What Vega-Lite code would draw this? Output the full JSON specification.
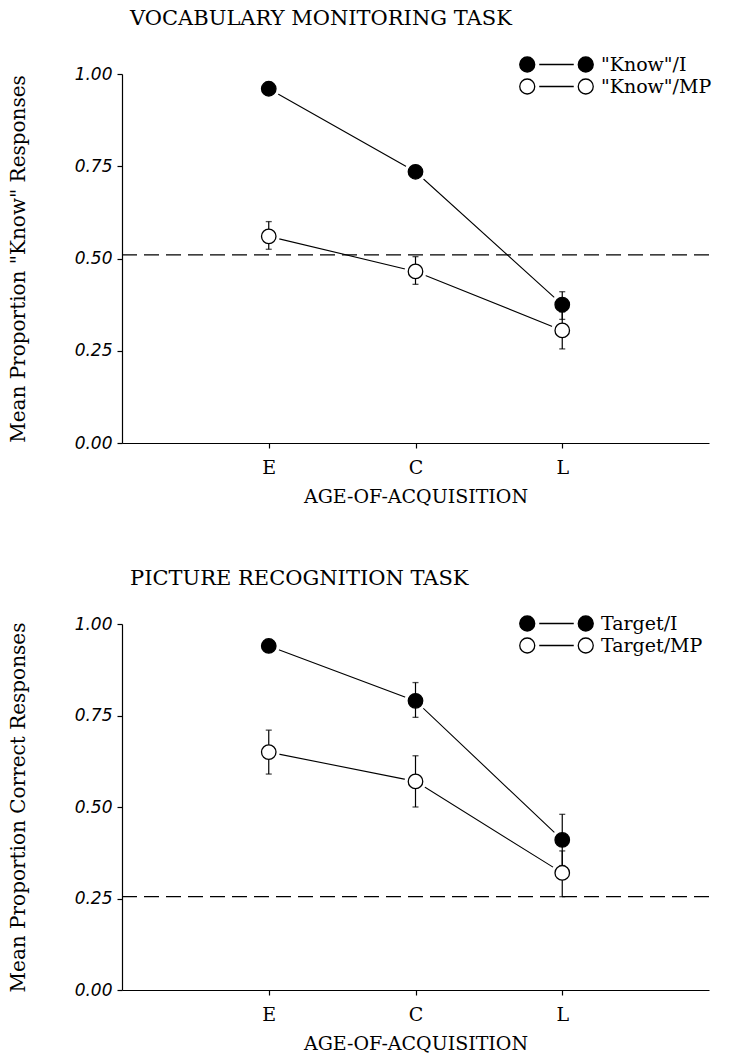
{
  "$schema": "https://vega.github.io/schema/vega-lite/v6.json",
  "background": "white",
  "padding": {"left": 8, "top": 8, "right": 5, "bottom": 2},
  "spacing": 62,
  "resolve": {"scale": {"fill": "independent"}, "legend": {"fill": "independent"}},
  "config": {
    "font": "DejaVu Serif",
    "view": {"stroke": null},
    "axis": {
      "grid": false,
      "domainColor": "black",
      "domainWidth": 1.2,
      "tickColor": "black",
      "tickWidth": 1.2,
      "tickSize": 5,
      "labelColor": "black",
      "titleColor": "black",
      "titleFont": "DejaVu Serif",
      "titleFontWeight": "normal",
      "titleFontSize": 19
    }
  },
  "datasets": {
    "vocab": [
      {"age": "E", "cond": "\"Know\"/I", "mean": 0.96, "lo": 0.945, "hi": 0.975},
      {"age": "C", "cond": "\"Know\"/I", "mean": 0.735, "lo": 0.72, "hi": 0.75},
      {"age": "L", "cond": "\"Know\"/I", "mean": 0.375, "lo": 0.335, "hi": 0.41},
      {"age": "E", "cond": "\"Know\"/MP", "mean": 0.56, "lo": 0.525, "hi": 0.60},
      {"age": "C", "cond": "\"Know\"/MP", "mean": 0.465, "lo": 0.43, "hi": 0.505},
      {"age": "L", "cond": "\"Know\"/MP", "mean": 0.305, "lo": 0.255, "hi": 0.355}
    ],
    "picture": [
      {"age": "E", "cond": "Target/I", "mean": 0.94, "lo": 0.925, "hi": 0.955},
      {"age": "C", "cond": "Target/I", "mean": 0.79, "lo": 0.745, "hi": 0.84},
      {"age": "L", "cond": "Target/I", "mean": 0.41, "lo": 0.34, "hi": 0.48},
      {"age": "E", "cond": "Target/MP", "mean": 0.65, "lo": 0.59, "hi": 0.71},
      {"age": "C", "cond": "Target/MP", "mean": 0.57, "lo": 0.50, "hi": 0.64},
      {"age": "L", "cond": "Target/MP", "mean": 0.32, "lo": 0.255, "hi": 0.38}
    ],
    "chance_vocab": [{"chance": 0.51}],
    "chance_picture": [{"chance": 0.255}]
  },
  "vconcat": [
    {
      "title": {"text": "VOCABULARY MONITORING TASK", "anchor": "start", "frame": "group", "dx": 8, "fontSize": 21, "fontWeight": "normal", "font": "DejaVu Serif", "color": "black", "offset": 26},
      "width": 587,
      "height": 369,
      "layer": [
        {
          "data": {"name": "chance_vocab"},
          "mark": {"type": "rule", "strokeDash": [15, 7], "strokeWidth": 1.2, "color": "black"},
          "encoding": {"y": {"field": "chance", "type": "quantitative", "scale": {"domain": [0, 1], "nice": false}}}
        },
        {
          "data": {"name": "vocab"},
          "mark": {"type": "line", "color": "black", "strokeWidth": 1.1},
          "encoding": {
            "x": {"field": "age", "type": "ordinal", "scale": {"type": "point", "domain": ["E", "C", "L"], "padding": 1},
              "axis": {"title": "AGE-OF-ACQUISITION", "labelAngle": 0, "labelFont": "DejaVu Serif", "labelFontSize": 19, "labelPadding": 10, "titlePadding": 10}},
            "y": {"field": "mean", "type": "quantitative", "scale": {"domain": [0, 1], "nice": false},
              "axis": {"title": "Mean Proportion \"Know\" Responses", "titleFontSize": 20, "values": [0, 0.25, 0.5, 0.75, 1], "format": ".2f", "labelFont": "DejaVu Sans", "labelFontStyle": "italic", "labelFontSize": 17, "labelPadding": 5, "titlePadding": 46}},
            "detail": {"field": "cond"}
          }
        },
        {
          "data": {"name": "vocab"},
          "mark": {"type": "point", "shape": "circle", "filled": true, "color": "white", "size": 480, "opacity": 1},
          "encoding": {
            "x": {"field": "age", "type": "ordinal"},
            "y": {"field": "mean", "type": "quantitative"}
          }
        },
        {
          "data": {"name": "vocab"},
          "mark": {"type": "rule", "color": "black", "strokeWidth": 1.2},
          "encoding": {
            "x": {"field": "age", "type": "ordinal"},
            "y": {"field": "lo", "type": "quantitative"},
            "y2": {"field": "hi"}
          }
        },
        {
          "data": {"name": "vocab"},
          "mark": {"type": "tick", "color": "black", "size": 6, "thickness": 1.3, "orient": "horizontal"},
          "encoding": {
            "x": {"field": "age", "type": "ordinal"},
            "y": {"field": "lo", "type": "quantitative"}
          }
        },
        {
          "data": {"name": "vocab"},
          "mark": {"type": "tick", "color": "black", "size": 6, "thickness": 1.3, "orient": "horizontal"},
          "encoding": {
            "x": {"field": "age", "type": "ordinal"},
            "y": {"field": "hi", "type": "quantitative"}
          }
        },
        {
          "data": {"name": "vocab"},
          "mark": {"type": "point", "shape": "circle", "filled": true, "stroke": "black", "strokeWidth": 1.3, "size": 210, "opacity": 1},
          "encoding": {
            "x": {"field": "age", "type": "ordinal"},
            "y": {"field": "mean", "type": "quantitative"},
            "fill": {"field": "cond", "type": "nominal",
              "scale": {"domain": ["\"Know\"/I", "\"Know\"/MP"], "range": ["black", "white"]},
              "legend": {"orient": "none", "legendX": 425, "legendY": -19, "title": null, "padding": 0,
                "symbolType": "M -4.9 0 A 1 1 0 1 1 -2.9 0 A 1 1 0 1 1 -4.9 0 Z M 2.9 0 A 1 1 0 1 1 4.9 0 A 1 1 0 1 1 2.9 0 Z M -2.3 0 L 2.3 0",
                "symbolSize": 225, "symbolStrokeColor": "black", "symbolStrokeWidth": 1.3, "symbolOpacity": 1,
                "labelFont": "DejaVu Serif", "labelFontSize": 19, "labelColor": "black", "labelOffset": 35, "rowPadding": 1}}
          }
        }
      ]
    },
    {
      "title": {"text": "PICTURE RECOGNITION TASK", "anchor": "start", "frame": "group", "dx": 8, "fontSize": 21, "fontWeight": "normal", "font": "DejaVu Serif", "color": "black", "offset": 25},
      "width": 587,
      "height": 366,
      "layer": [
        {
          "data": {"name": "chance_picture"},
          "mark": {"type": "rule", "strokeDash": [15, 7], "strokeWidth": 1.2, "color": "black"},
          "encoding": {"y": {"field": "chance", "type": "quantitative", "scale": {"domain": [0, 1], "nice": false}}}
        },
        {
          "data": {"name": "picture"},
          "mark": {"type": "line", "color": "black", "strokeWidth": 1.1},
          "encoding": {
            "x": {"field": "age", "type": "ordinal", "scale": {"type": "point", "domain": ["E", "C", "L"], "padding": 1},
              "axis": {"title": "AGE-OF-ACQUISITION", "labelAngle": 0, "labelFont": "DejaVu Serif", "labelFontSize": 19, "labelPadding": 10, "titlePadding": 10}},
            "y": {"field": "mean", "type": "quantitative", "scale": {"domain": [0, 1], "nice": false},
              "axis": {"title": "Mean Proportion Correct Responses", "titleFontSize": 20, "values": [0, 0.25, 0.5, 0.75, 1], "format": ".2f", "labelFont": "DejaVu Sans", "labelFontStyle": "italic", "labelFontSize": 17, "labelPadding": 5, "titlePadding": 46}},
            "detail": {"field": "cond"}
          }
        },
        {
          "data": {"name": "picture"},
          "mark": {"type": "point", "shape": "circle", "filled": true, "color": "white", "size": 480, "opacity": 1},
          "encoding": {
            "x": {"field": "age", "type": "ordinal"},
            "y": {"field": "mean", "type": "quantitative"}
          }
        },
        {
          "data": {"name": "picture"},
          "mark": {"type": "rule", "color": "black", "strokeWidth": 1.2},
          "encoding": {
            "x": {"field": "age", "type": "ordinal"},
            "y": {"field": "lo", "type": "quantitative"},
            "y2": {"field": "hi"}
          }
        },
        {
          "data": {"name": "picture"},
          "mark": {"type": "tick", "color": "black", "size": 6, "thickness": 1.3, "orient": "horizontal"},
          "encoding": {
            "x": {"field": "age", "type": "ordinal"},
            "y": {"field": "lo", "type": "quantitative"}
          }
        },
        {
          "data": {"name": "picture"},
          "mark": {"type": "tick", "color": "black", "size": 6, "thickness": 1.3, "orient": "horizontal"},
          "encoding": {
            "x": {"field": "age", "type": "ordinal"},
            "y": {"field": "hi", "type": "quantitative"}
          }
        },
        {
          "data": {"name": "picture"},
          "mark": {"type": "point", "shape": "circle", "filled": true, "stroke": "black", "strokeWidth": 1.3, "size": 210, "opacity": 1},
          "encoding": {
            "x": {"field": "age", "type": "ordinal"},
            "y": {"field": "mean", "type": "quantitative"},
            "fill": {"field": "cond", "type": "nominal",
              "scale": {"domain": ["Target/I", "Target/MP"], "range": ["black", "white"]},
              "legend": {"orient": "none", "legendX": 425, "legendY": -10, "title": null, "padding": 0,
                "symbolType": "M -4.9 0 A 1 1 0 1 1 -2.9 0 A 1 1 0 1 1 -4.9 0 Z M 2.9 0 A 1 1 0 1 1 4.9 0 A 1 1 0 1 1 2.9 0 Z M -2.3 0 L 2.3 0",
                "symbolSize": 225, "symbolStrokeColor": "black", "symbolStrokeWidth": 1.3, "symbolOpacity": 1,
                "labelFont": "DejaVu Serif", "labelFontSize": 19, "labelColor": "black", "labelOffset": 35, "rowPadding": 1}}
          }
        }
      ]
    }
  ]
}
